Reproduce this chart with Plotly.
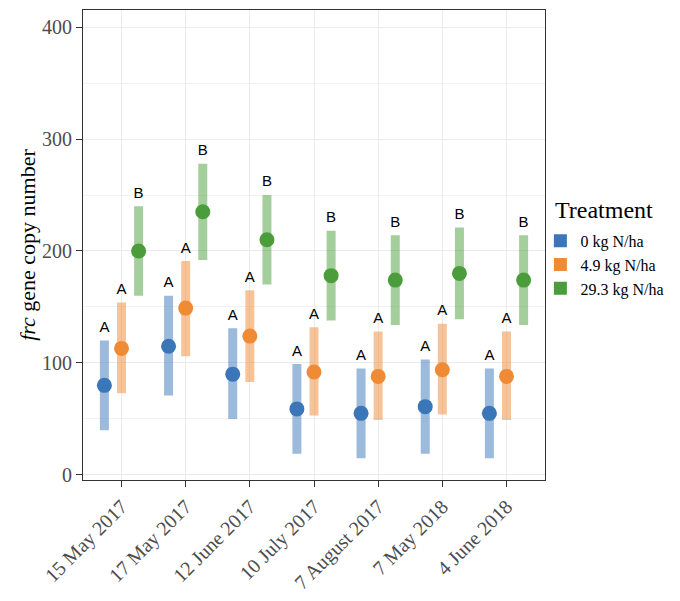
import plotly.graph_objects as go

# 颜色
colors = {
    'blue': '#3a76b8',
    'orange': '#ef8a35',
    'green': '#4b9d3b',
}
bar_colors = {
    'blue': 'rgba(58,118,184,0.5)',
    'orange': 'rgba(239,138,53,0.5)',
    'green': 'rgba(75,157,59,0.5)',
}

# 数据
dates = ['15 May 2017', '17 May 2017', '12 June 2017', '10 July 2017',
         '7 August 2017', '7 May 2018', '4 June 2018']
treatments = ['0 kg N/ha', '4.9 kg N/ha', '29.3 kg N/ha']

mean_0 = [80, 115, 90, 59, 55, 61, 55]
low_0 = [40, 71, 50, 19, 15, 19, 15]
high_0 = [120, 160, 131, 99, 95, 103, 95]
letters_0 = ['A', 'A', 'A', 'A', 'A', 'A', 'A']

mean_49 = [113, 149, 124, 92, 88, 94, 88]
low_49 = [73, 106, 83, 53, 49, 54, 49]
high_49 = [154, 191, 165, 132, 128, 135, 128]
letters_49 = ['A', 'A', 'A', 'A', 'A', 'A', 'A']

mean_293 = [200, 235, 210, 178, 174, 180, 174]
low_293 = [160, 192, 170, 138, 134, 139, 134]
high_293 = [240, 278, 250, 218, 214, 221, 214]
letters_293 = ['B', 'B', 'B', 'B', 'B', 'B', 'B']

series = [
    (treatments[0], mean_0, low_0, high_0, letters_0, 'blue'),
    (treatments[1], mean_49, low_49, high_49, letters_49, 'orange'),
    (treatments[2], mean_293, low_293, high_293, letters_293, 'green'),
]

dodge = 0.8 / 3
positions = list(range(1, len(dates) + 1))

serif = 'Liberation Serif, Times New Roman, serif'
sans = 'Liberation Sans, Arial, sans-serif'

fig = go.Figure()

for k, (name, mean, low, high, letters, c) in enumerate(series):
    xs = [p + (k - 1) * dodge for p in positions]
    fig.add_trace(go.Scatter(
        x=xs,
        y=mean,
        mode='markers',
        name=name,
        showlegend=False,
        marker=dict(color=colors[c], size=15),
        error_y=dict(
            type='data',
            symmetric=False,
            array=[h - m for h, m in zip(high, mean)],
            arrayminus=[m - l for m, l in zip(mean, low)],
            color=bar_colors[c],
            thickness=9,
            width=0,
        ),
    ))
    # 显著性字母
    fig.add_trace(go.Scatter(
        x=xs,
        y=[h + 11 for h in high],
        mode='text',
        text=letters,
        textposition='middle center',
        textfont=dict(family=sans, size=15, color='black'),
        showlegend=False,
        hoverinfo='skip',
    ))

# 图例（方块）
for name, *_rest, c in series:
    fig.add_trace(go.Scatter(
        x=[None],
        y=[None],
        mode='markers',
        name=name,
        marker=dict(color=colors[c], size=13, symbol='square'),
    ))

# 页面 body 有 8px 边距，这里的边距已做补偿
fig.update_layout(
    width=680,
    height=601,
    paper_bgcolor='white',
    plot_bgcolor='white',
    margin=dict(l=75, r=143, t=2, b=129),
    font=dict(family=serif, color='black'),
    legend=dict(
        font=dict(family=serif, size=16, color='black'),
        x=0.99,
        xanchor='left',
        y=0.545,
        yanchor='top',
        bgcolor='rgba(0,0,0,0)',
    ),
    annotations=[dict(
        text='Treatment',
        xref='paper', yref='paper',
        x=1.017, y=0.607,
        xanchor='left', yanchor='top',
        showarrow=False,
        font=dict(family=serif, size=24, color='black'),
    )],
)

fig.update_xaxes(
    range=[0.4, 7.6],
    tickmode='array',
    tickvals=positions,
    ticktext=dates,
    tickangle=-45,
    tickfont=dict(family=serif, size=20, color='#4d4d4d'),
    ticks='outside',
    ticklen=6,
    tickcolor='#333333',
    showgrid=True,
    gridcolor='#ebebeb',
    gridwidth=1.1,
    showline=True,
    linecolor='#333333',
    linewidth=1.2,
    mirror=True,
    zeroline=False,
    automargin=False,
)

fig.update_yaxes(
    range=[-4.5, 415.2],
    tickvals=[0, 100, 200, 300, 400],
    tickfont=dict(family=serif, size=20, color='#4d4d4d'),
    ticks='outside',
    ticklen=6,
    tickcolor='#333333',
    showgrid=True,
    gridcolor='#ebebeb',
    gridwidth=1.1,
    minor=dict(tickvals=[50, 150, 250, 350], showgrid=True, gridcolor='#f2f2f2', gridwidth=0.6, ticks=''),
    showline=True,
    linecolor='#333333',
    linewidth=1.2,
    mirror=True,
    zeroline=False,
    automargin=False,
    title=dict(text='<i>frc</i> gene copy number', font=dict(family=serif, size=22, color='black'), standoff=0),
)

fig.write_html('out.html')
